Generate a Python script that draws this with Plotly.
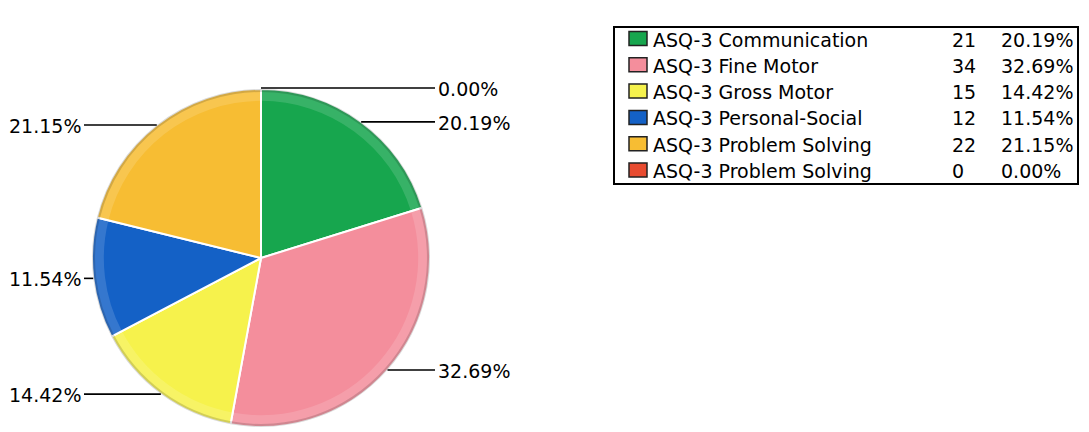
import math
import plotly.graph_objects as go

W, H = 1089, 432

labels = ["ASQ-3 Communication", "ASQ-3 Fine Motor", "ASQ-3 Gross Motor",
          "ASQ-3 Personal-Social", "ASQ-3 Problem Solving", "ASQ-3 Problem Solving"]
values = [21, 34, 15, 12, 22, 0]
pct_labels = ["20.19%", "32.69%", "14.42%", "11.54%", "21.15%", "0.00%"]
colors = ["#17A64E", "#F48E9C", "#F6F24C", "#1461C6", "#F7BD33", "#E84B30"]

FONT = "DejaVu Sans"
FS = 19

# pie geometry (pixels)
cx, cy, R = 261, 258, 169


def px(x):
    return x / W


def py(y):
    return 1 - y / H


domain = dict(x=[px(cx - R), px(cx + R)], y=[py(cy + R), py(cy - R)])
names = [f"{l} {i}" for i, l in enumerate(labels)]

fig = go.Figure()
fig.add_trace(go.Pie(
    values=values, labels=names, sort=False, direction="clockwise", rotation=0,
    marker=dict(colors=colors, line=dict(color="white", width=2)),
    textinfo="none", hoverinfo="label+value+percent", showlegend=False, domain=domain,
))
# bevel: light inner band + darker outer rim
fig.add_trace(go.Pie(
    values=values, labels=names, sort=False, direction="clockwise", rotation=0, hole=0.93,
    marker=dict(colors=["rgba(255,255,255,0.14)"] * len(values), line=dict(width=0)),
    textinfo="none", hoverinfo="skip", showlegend=False, domain=domain,
))
fig.add_trace(go.Pie(
    values=values, labels=names, sort=False, direction="clockwise", rotation=0, hole=0.982,
    marker=dict(colors=["rgba(0,0,0,0.15)"] * len(values), line=dict(width=0)),
    textinfo="none", hoverinfo="skip", showlegend=False, domain=domain,
))

shapes = []
annotations = []

total = sum(values)
cum = 0
for v, lab in zip(values, pct_labels):
    mid = (cum + v / 2) / total * 360
    cum += v
    a = math.radians(mid)
    ex = cx + R * math.sin(a)
    ey = cy - R * math.cos(a)
    if v == 0:
        ey -= 1
    right = (mid % 360) < 180 or v == 0
    if right:
        x_end = 435
        shapes.append(dict(type="line", xref="paper", yref="paper",
                           x0=px(ex), y0=py(ey), x1=px(x_end), y1=py(ey),
                           line=dict(color="black", width=1.6)))
        annotations.append(dict(x=px(x_end + 1), y=py(ey + 1), xref="paper", yref="paper",
                                text=lab, showarrow=False, xanchor="left", yanchor="middle",
                                font=dict(family=FONT, size=FS, color="#000")))
    else:
        x_end = 84
        shapes.append(dict(type="line", xref="paper", yref="paper",
                           x0=px(x_end), y0=py(ey), x1=px(ex), y1=py(ey),
                           line=dict(color="black", width=1.6)))
        annotations.append(dict(x=px(x_end - 1), y=py(ey + 1), xref="paper", yref="paper",
                                text=lab, showarrow=False, xanchor="right", yanchor="middle",
                                font=dict(family=FONT, size=FS, color="#000")))

# legend table box
shapes.append(dict(type="rect", xref="paper", yref="paper",
                   x0=px(614), y0=py(184), x1=px(1078), y1=py(27),
                   line=dict(color="black", width=2), fillcolor="white", layer="below"))
row0, step = 38.5, 26.3
for i, (lab, v, pl, c) in enumerate(zip(labels, values, pct_labels, colors)):
    y = row0 + i * step
    shapes.append(dict(type="rect", xref="paper", yref="paper",
                       x0=px(629), y0=py(y + 7), x1=px(647), y1=py(y - 7),
                       line=dict(color="#222", width=1.5), fillcolor=c))
    for x, t in ((651, lab), (950, str(v)), (999, pl)):
        annotations.append(dict(x=px(x), y=py(y + 1), xref="paper", yref="paper",
                                text=t, showarrow=False, xanchor="left", yanchor="middle",
                                font=dict(family=FONT, size=FS, color="#000")))

fig.update_layout(
    width=W, height=H,
    margin=dict(l=0, r=0, t=0, b=0),
    paper_bgcolor="white", plot_bgcolor="white",
    shapes=shapes, annotations=annotations,
)

fig.write_html("out.html")
